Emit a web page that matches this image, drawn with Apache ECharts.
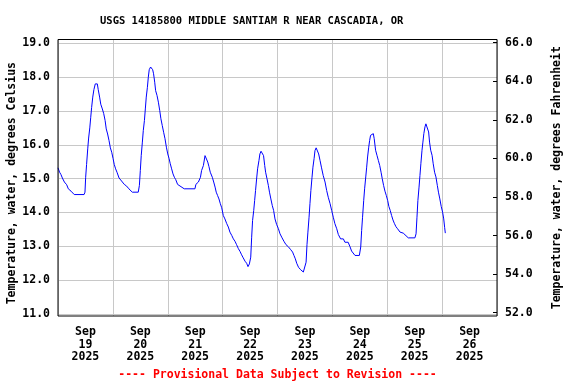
<!DOCTYPE html>
<html><head><meta charset="utf-8">
<script src="https://cdn.jsdelivr.net/npm/echarts@6/dist/echarts.min.js"></script>
<style>html,body{margin:0;padding:0;background:#fff}#c{width:576px;height:384px}</style>
</head><body><div id="c"></div>
<script>
const titleText = 'USGS 14185800 MIDDLE SANTIAM R NEAR CASCADIA, OR';
const footText = '---- Provisional Data Subject to Revision ----';
const leftAxisName = 'Temperature, water, degrees Celsius';
const rightAxisName = 'Temperature, water, degrees Fahrenheit';
const dayLabels = ['Sep\n19\n2025','Sep\n20\n2025','Sep\n21\n2025','Sep\n22\n2025','Sep\n23\n2025','Sep\n24\n2025','Sep\n25\n2025','Sep\n26\n2025'];
// hours since 2025-09-19 00:00
const hours = [0.0,0.7,1.3,1.9,2.8,3.8,4.5,5.7,7.1,11.4,11.8,12.1,12.5,13.0,13.4,13.9,14.3,14.7,15.2,15.7,16.3,17.2,17.6,18.2,18.7,19.4,20.0,20.6,21.1,21.7,22.3,22.9,23.5,24.1,24.6,25.2,25.8,26.7,27.8,29.0,30.0,31.0,32.5,35.1,35.6,36.0,36.4,36.9,37.3,37.8,38.2,38.6,39.1,39.5,39.9,40.5,41.0,41.4,41.8,42.3,42.7,43.3,43.9,44.5,45.0,45.6,46.2,46.8,47.4,48.0,48.6,49.1,49.7,50.3,50.9,51.5,52.3,55.2,59.9,60.3,61.4,62.3,62.8,63.6,64.3,64.9,65.5,66.0,66.6,67.5,68.1,68.7,69.2,69.8,70.4,71.0,71.6,72.3,73.0,73.8,74.5,75.2,76.0,76.7,77.4,78.1,78.9,79.6,80.3,81.0,81.8,82.5,83.1,83.7,84.3,84.7,85.1,85.6,86.0,86.4,86.9,87.3,87.9,88.3,88.8,89.5,89.9,90.4,90.8,91.4,92.0,92.5,93.1,93.7,94.3,94.9,95.6,96.4,97.1,98.0,98.8,99.7,100.7,101.8,102.6,103.2,103.8,104.4,105.2,106.1,107.3,108.0,108.5,108.9,109.3,109.8,110.2,110.6,111.1,111.5,112.0,112.4,112.9,113.6,114.0,114.6,115.2,116.0,116.8,117.5,118.2,119.0,119.7,120.4,121.1,121.9,122.6,123.6,124.8,125.5,126.9,127.7,128.4,129.9,131.8,132.4,132.8,133.2,133.7,134.1,134.6,135.0,135.4,135.9,136.3,136.7,137.2,137.9,138.3,138.9,139.5,140.1,140.7,141.3,141.8,142.4,143.0,143.6,144.2,144.7,145.3,145.9,146.5,147.1,147.8,148.5,149.6,151.0,151.7,153.2,156.1,156.6,157.0,157.4,157.9,158.3,158.7,159.2,159.6,160.0,160.5,160.9,161.7,162.1,162.5,163.0,163.6,164.1,164.7,165.3,165.9,166.4,167.0,167.6,168.2,168.7,169.1,169.4];
const tempC = [15.32,15.19,15.12,15.02,14.90,14.82,14.70,14.63,14.53,14.53,14.60,15.04,15.42,15.88,16.20,16.50,16.80,17.10,17.41,17.63,17.80,17.80,17.63,17.41,17.20,17.06,16.92,16.72,16.47,16.32,16.13,15.91,15.78,15.59,15.42,15.29,15.19,15.02,14.93,14.83,14.78,14.70,14.60,14.60,14.80,15.24,15.68,16.08,16.42,16.72,17.06,17.41,17.70,18.00,18.22,18.30,18.32,18.22,18.10,17.85,17.60,17.46,17.26,17.01,16.77,16.57,16.37,16.18,15.93,15.73,15.59,15.44,15.29,15.14,15.04,14.97,14.83,14.70,14.70,14.83,14.90,15.04,15.24,15.39,15.68,15.63,15.49,15.36,15.19,15.04,14.90,14.75,14.60,14.50,14.40,14.26,14.14,13.91,13.81,13.67,13.57,13.42,13.32,13.22,13.15,13.05,12.93,12.85,12.75,12.66,12.56,12.50,12.40,12.48,12.68,13.27,13.76,14.06,14.35,14.65,15.02,15.29,15.54,15.73,15.81,15.81,15.68,15.39,15.19,15.00,14.80,14.60,14.40,14.21,14.06,13.81,13.65,13.52,13.37,13.25,13.15,13.05,12.99,12.90,12.83,12.73,12.63,12.50,12.38,12.31,12.24,12.29,12.53,13.05,13.42,13.86,14.26,14.65,15.04,15.34,15.59,15.83,15.91,15.91,15.73,15.54,15.34,15.09,14.90,14.65,14.45,14.26,14.06,13.86,13.67,13.52,13.35,13.22,13.22,13.12,13.12,12.99,12.86,12.73,12.73,12.98,13.47,13.86,14.35,14.70,15.05,15.34,15.64,15.93,16.13,16.28,16.33,16.33,16.18,15.84,15.69,15.54,15.39,15.19,15.00,14.80,14.63,14.50,14.35,14.18,14.06,13.91,13.78,13.68,13.58,13.52,13.42,13.39,13.35,13.25,13.25,13.37,13.86,14.35,14.75,15.09,15.44,15.84,16.08,16.33,16.53,16.62,16.60,16.38,16.08,15.84,15.69,15.44,15.19,15.05,14.80,14.60,14.40,14.18,14.01,13.81,13.56,13.39];
const celsiusMin = 11, celsiusMax = 19, celsiusStep = 1;
const fahrMin = 52, fahrMax = 66, fahrStep = 2;
const hourMin = 0, hourMax = 192;

const FONT = 'DejaVu Sans Mono';
const chart = echarts.init(document.getElementById('c'), null, {renderer: 'canvas'});
const seriesData = hours.map((h, i) => [h, tempC[i]]);
const grayLine = {show: true, lineStyle: {color: '#c8c8c8', width: 1}};
const lbl = {fontFamily: FONT, fontWeight: 'bold', fontSize: 11.5, color: '#000'};

chart.setOption({
  animation: false,
  backgroundColor: '#fff',
  graphic: [
    {type: 'text', left: 100, top: 16, style: {text: titleText, font: 'bold 10.5px "DejaVu Sans Mono"', fill: '#000'}},
    {type: 'text', x: 277.5, y: 375, style: {text: footText, font: 'bold 11.5px "DejaVu Sans Mono"', fill: '#ff0000', align: 'center', verticalAlign: 'middle'}}
  ],
  grid: [
    {left: 58, top: 39.5, width: 439, height: 276.5, show: true, borderColor: '#000', borderWidth: 1, backgroundColor: 'transparent', z: 5, outerBoundsMode: 'none', containLabel: false},
    {left: 58, top: 43.3, width: 439, height: 270.7, outerBoundsMode: 'none', containLabel: false},
    {left: 58, top: 42.7, width: 439, height: 270, outerBoundsMode: 'none', containLabel: false}
  ],
  xAxis: [
    {type: 'category', gridIndex: 0, data: dayLabels, boundaryGap: true,
     axisLine: {show: false, onZero: false}, axisTick: {show: false}, splitLine: grayLine,
     axisLabel: Object.assign({interval: 0, lineHeight: 12.7, margin: 9.5}, lbl)},
    {type: 'value', gridIndex: 1, min: hourMin, max: hourMax, show: false, axisLine: {onZero: false}},
    {type: 'value', gridIndex: 2, min: 0, max: 1, show: false, axisLine: {onZero: false}}
  ],
  yAxis: [
    {type: 'value', gridIndex: 0, show: false, min: 0, max: 1, axisLine: {onZero: false}},
    {type: 'value', gridIndex: 1, position: 'left', min: celsiusMin, max: celsiusMax, interval: celsiusStep,
     axisLine: {show: false, onZero: false}, axisTick: {show: false}, splitLine: grayLine,
     axisLabel: Object.assign({margin: 8, formatter: v => v.toFixed(1)}, lbl),
     name: leftAxisName, nameLocation: 'middle', nameRotate: 90, nameGap: 40, nameMoveOverlap: false,
     nameTextStyle: Object.assign({padding: [0, 9, 0, 0]}, lbl)},
    {type: 'value', gridIndex: 2, position: 'right', min: fahrMin, max: fahrMax, interval: fahrStep,
     axisLine: {show: false, onZero: false}, axisTick: {show: true, inside: true, length: 4, lineStyle: {color: '#000'}},
     splitLine: {show: false},
     axisLabel: Object.assign({margin: 8, formatter: v => v.toFixed(1)}, lbl),
     name: rightAxisName, nameLocation: 'middle', nameRotate: 90, nameGap: 54, nameMoveOverlap: false,
     nameTextStyle: lbl}
  ],
  series: [{
    type: 'line', xAxisIndex: 1, yAxisIndex: 1, data: seriesData,
    showSymbol: false, symbol: 'none', lineStyle: {color: '#0000ff', width: 1}, z: 3
  }]
});
</script>
</body></html>
